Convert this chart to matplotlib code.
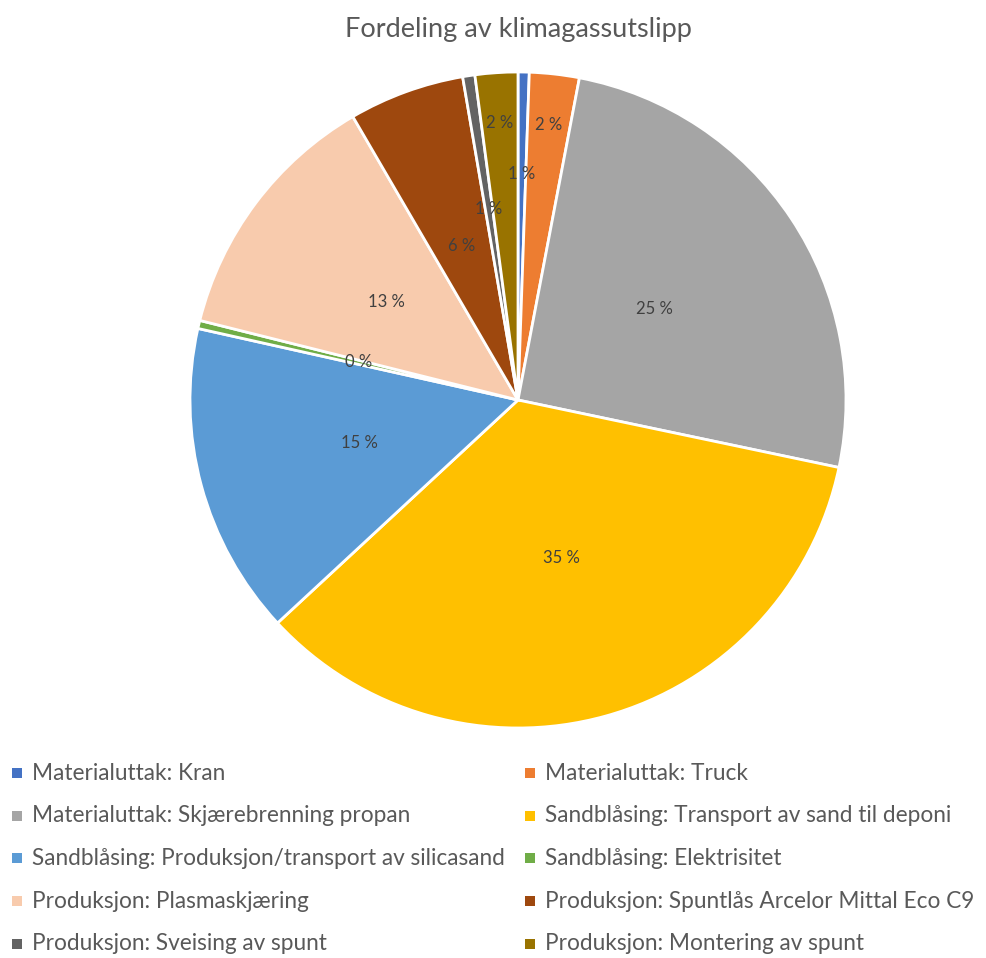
import matplotlib
matplotlib.use("Agg")
import matplotlib.pyplot as plt
from matplotlib.patches import Rectangle
import numpy as np

# Emission shares (percent) per activity
categories = [
    "Materialuttak: Kran",
    "Materialuttak: Truck",
    "Materialuttak: Skjærebrenning propan",
    "Sandblåsing: Transport av sand til deponi",
    "Sandblåsing: Produksjon/transport av silicasand",
    "Sandblåsing: Elektrisitet",
    "Produksjon: Plasmaskjæring",
    "Produksjon: Spuntlås Arcelor Mittal Eco C9",
    "Produksjon: Sveising av spunt",
    "Produksjon: Montering av spunt",
]
shares = [0.55, 2.45, 25.3, 34.8, 15.4, 0.4, 12.7, 5.7, 0.6, 2.1]
colors = ["#4472C4", "#ED7D31", "#A5A5A5", "#FFC000", "#5B9BD5",
          "#70AD47", "#F8CBAD", "#9E480E", "#636363", "#997300"]

# Radial position of each data label (fraction of radius)
label_radius = [0.69, 0.845, 0.5, 0.5, 0.5, 0.5, 0.5, 0.5, 0.59, 0.845]

W, H = 986, 958
fig = plt.figure(figsize=(W / 100, H / 100), dpi=100)
font = "Lato"
text_col = "#595959"

cx, cy, r = 518, 400, 328
ax = fig.add_axes([(cx - r) / W, (H - cy - r) / H, 2 * r / W, 2 * r / H])
wedges, _ = ax.pie(shares, colors=colors, startangle=90, counterclock=False,
                   radius=1.0, wedgeprops=dict(edgecolor="white", linewidth=2))
ax.set_xlim(-1.0, 1.0)
ax.set_ylim(-1.0, 1.0)
ax.set_aspect("equal")
ax.axis("off")

total = sum(shares)
cum = 0.0
for val, lr in zip(shares, label_radius):
    mid = (cum + val / 2) / total * 2 * np.pi
    cum += val
    x = lr * np.sin(mid)
    y = lr * np.cos(mid)
    ax.text(x, y, f"{round(val / total * 100):.0f} %", ha="center", va="center",
            fontsize=12, color="#404040", family=font)

fig.text(cx / W, 1 - 30 / H, "Fordeling av klimagassutslipp", ha="center",
         va="center", fontsize=19.5, color=text_col, family=font)

# Two-column legend below the pie
col_x = [12, 525]
row_y0, row_dy = 773, 42.7
for i, (name, c) in enumerate(zip(categories, colors)):
    row, col = divmod(i, 2)
    y = row_y0 + row * row_dy
    x = col_x[col]
    fig.patches.append(Rectangle((x / W, 1 - (y + 5) / H), 10 / W, 10 / H,
                                 transform=fig.transFigure, facecolor=c,
                                 edgecolor="none"))
    fig.text((x + 20) / W, 1 - y / H, name, ha="left", va="center",
             fontsize=16.3, color=text_col, family=font)

fig.savefig("out.png", dpi=100, facecolor="white")
